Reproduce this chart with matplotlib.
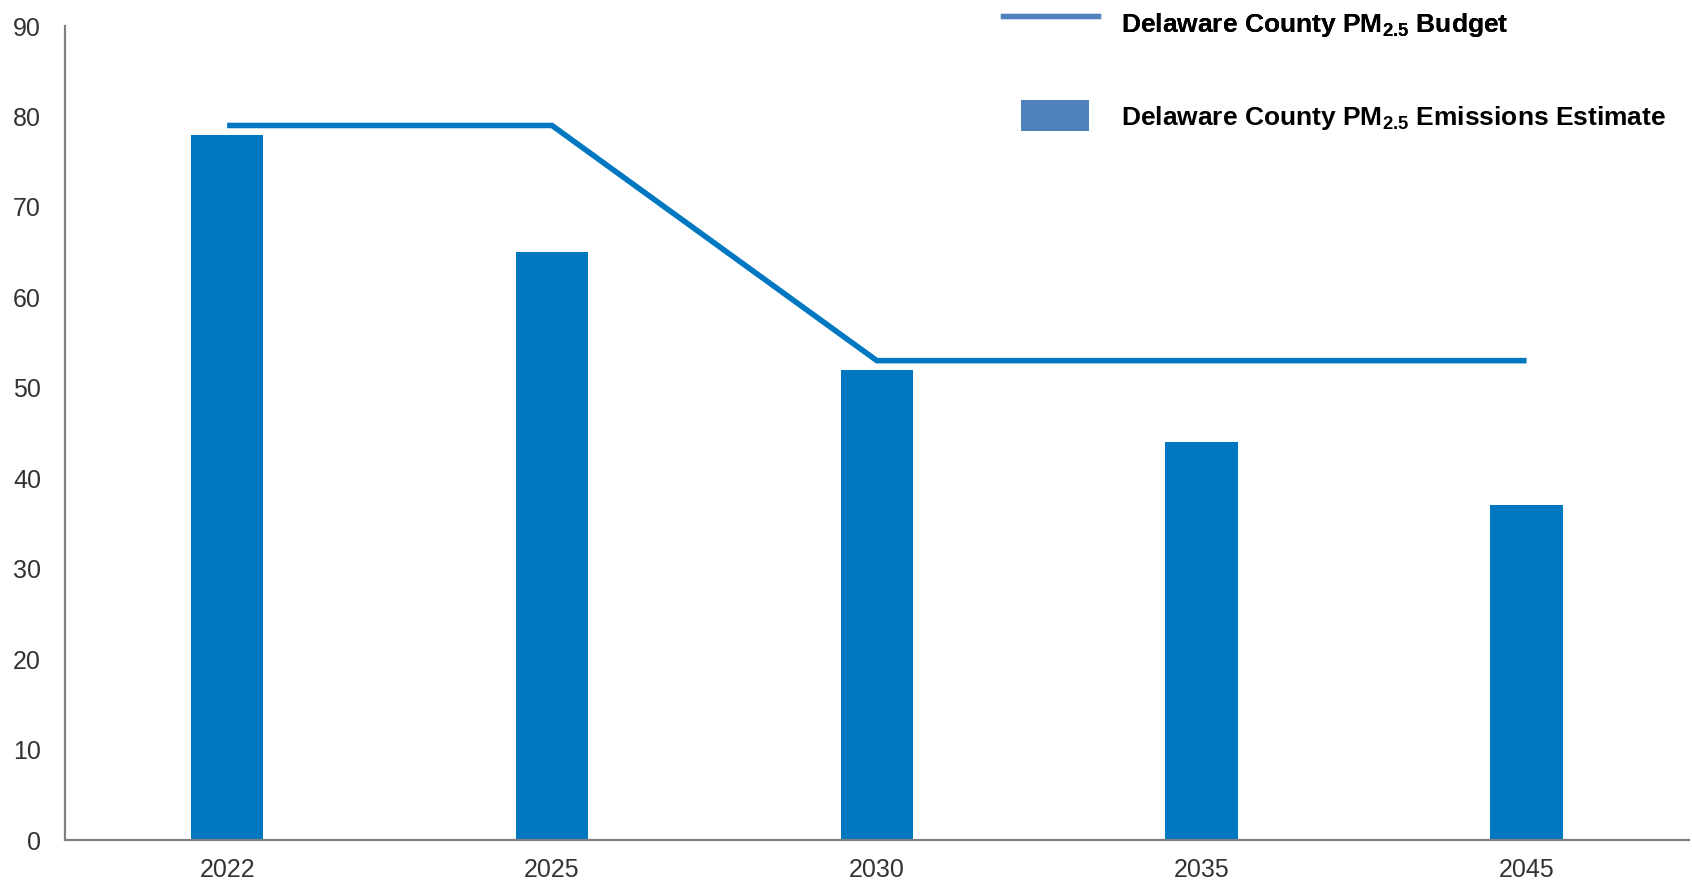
import matplotlib
matplotlib.use("Agg")
import matplotlib.pyplot as plt
from matplotlib.lines import Line2D
from matplotlib.patches import Patch

plt.rcParams['font.family'] = ['Liberation Sans', 'DejaVu Sans']
plt.rcParams['mathtext.fontset'] = 'custom'
plt.rcParams['mathtext.rm'] = 'Liberation Sans'
plt.rcParams['mathtext.bf'] = 'Liberation Sans:bold'

years = ["2022", "2025", "2030", "2035", "2045"]
emissions = [78, 65, 52, 44, 37]
budget = [79, 79, 53, 53, 53]
y_ticks = [0, 10, 20, 30, 40, 50, 60, 70, 80, 90]

bar_color = "#0078C1"
legend_color = "#4F81BD"

W, H = 1692, 880
fig = plt.figure(figsize=(W / 100, H / 100), dpi=100)
ax = fig.add_axes([64.7 / W, 1 - 840 / H, (1689 - 64.7) / W, (840 - 26) / H])

x = list(range(len(years)))
ax.bar(x, emissions, width=0.223, color=bar_color, zorder=2)
ax.plot(x, budget, color=bar_color, lw=4.0, solid_capstyle='butt',
        solid_joinstyle='miter', zorder=3)

ax.set_xlim(-0.5, len(years) - 0.5)
ax.set_ylim(0, 90)
ax.set_xticks(x)
ax.set_xticklabels(years)
ax.set_yticks(y_ticks)
ax.tick_params(axis='both', length=0, labelsize=18, labelcolor="#333333")
ax.tick_params(axis='y', pad=17)
ax.tick_params(axis='x', pad=13)

for side in ("top", "right"):
    ax.spines[side].set_visible(False)
for side in ("left", "bottom"):
    ax.spines[side].set_color("#808080")
    ax.spines[side].set_linewidth(1.6)

fs = 19
budget_label = r"Delaware County PM$_{\mathbf{2.5}}$ Budget"
estimate_label = r"Delaware County PM$_{\mathbf{2.5}}$ Emissions Estimate"

leg1 = fig.legend(handles=[Line2D([], [], color=legend_color, lw=3.8)],
                  labels=[budget_label], loc='center left',
                  bbox_to_anchor=(1003 / W, 1 - 23.5 / H),
                  frameon=False, borderpad=0, borderaxespad=0,
                  handlelength=3.6, handleheight=2.38, handletextpad=0.87,
                  prop={'size': fs, 'weight': 'bold'})
fig.add_artist(leg1)

leg2 = fig.legend(handles=[Patch(facecolor=legend_color, edgecolor='none')],
                  labels=[estimate_label], loc='center left',
                  bbox_to_anchor=(1021 / W, 1 - 116 / H),
                  frameon=False, borderpad=0, borderaxespad=0,
                  handlelength=2.58, handleheight=1.4, handletextpad=1.21,
                  prop={'size': fs, 'weight': 'bold'})

fig.savefig("out.png", dpi=100, facecolor="white")
